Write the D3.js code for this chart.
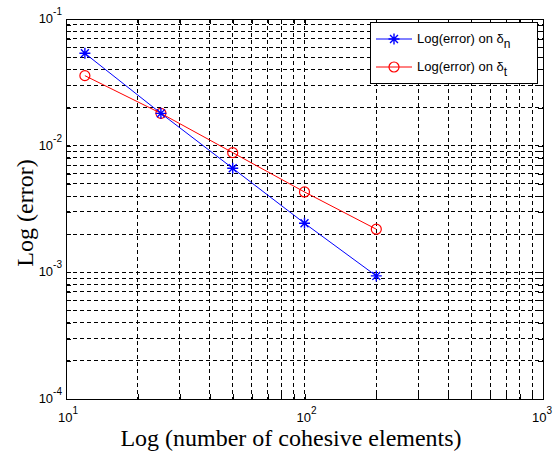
<!DOCTYPE html>
<html>
<head>
<meta charset="utf-8">
<script src="https://cdn.jsdelivr.net/npm/d3@7"></script>
<style>
  body { margin: 0; background: #fff; }
  svg { display: block; }
  .tick-label { font-family: "Liberation Sans", Arial, sans-serif; font-size: 13px; fill: #000; }
  .axis-title { font-family: "Liberation Serif", "Times New Roman", serif; font-size: 24px; fill: #000; }
  .legend-text { font-family: "Liberation Sans", Arial, sans-serif; font-size: 13px; fill: #000; }
</style>
</head>
<body>
<div class="chart"></div>
<script>
// data
const elements = [12, 25, 50, 100, 200];
const errNormal = [0.0536, 0.0180, 0.00663, 0.00244, 0.000937];
const errTangent = [0.0357, 0.0180, 0.00881, 0.00431, 0.00219];
const xDecades = [1, 2, 3];
const yDecades = [-4, -3, -2, -1];
const seriesNames = ["n", "t"];

const W = 554, H = 454;
const margin = {top: 19, right: 11, bottom: 55, left: 66};
const width = W - margin.left - margin.right,
      height = H - margin.top - margin.bottom;

const svg = d3.select(".chart").append("svg")
    .attr("width", W)
    .attr("height", H);

const g = svg.append("g")
    .attr("transform", `translate(${margin.left},${margin.top})`);

// === Scales ===
const xScale = d3.scaleLog()
    .domain([10 ** xDecades[0], 10 ** xDecades[xDecades.length - 1]])
    .range([0, width]);

const yScale = d3.scaleLog()
    .domain([10 ** yDecades[0], 10 ** yDecades[yDecades.length - 1]])
    .range([height, 0]);

const xTicks = xScale.ticks();
const yTicks = yScale.ticks();

// === Grid (dashed, at every log tick) ===
g.append("g")
    .attr("class", "grid")
    .selectAll("line")
    .data(xTicks.filter(d => d > xScale.domain()[0] && d < xScale.domain()[1]))
    .join("line")
    .attr("x1", d => xScale(d)).attr("x2", d => xScale(d))
    .attr("y1", 0).attr("y2", height)
    .attr("stroke", "#000")
    .attr("stroke-width", 1)
    .attr("stroke-dasharray", "4,3")
    .attr("shape-rendering", "crispEdges");

g.append("g")
    .attr("class", "grid")
    .selectAll("line")
    .data(yTicks.filter(d => d > yScale.domain()[0] && d < yScale.domain()[1]))
    .join("line")
    .attr("y1", d => yScale(d)).attr("y2", d => yScale(d))
    .attr("x1", 0).attr("x2", width)
    .attr("stroke", "#000")
    .attr("stroke-width", 1)
    .attr("stroke-dasharray", "4,3")
    .attr("shape-rendering", "crispEdges");

// === Axes (inner ticks on all sides, labels drawn separately) ===
function styleAxis(sel) {
    sel.select(".domain").remove();
    sel.selectAll(".tick text").remove();
    sel.selectAll(".tick line").attr("stroke", "#000").attr("shape-rendering", "crispEdges");
}

g.append("g").attr("transform", `translate(0,${height})`)
    .call(d3.axisBottom(xScale).tickValues(xTicks).tickSizeInner(-5).tickSizeOuter(0))
    .call(styleAxis);
g.append("g")
    .call(d3.axisTop(xScale).tickValues(xTicks).tickSizeInner(-5).tickSizeOuter(0))
    .call(styleAxis);
g.append("g")
    .call(d3.axisLeft(yScale).tickValues(yTicks).tickSizeInner(-5).tickSizeOuter(0))
    .call(styleAxis);
g.append("g").attr("transform", `translate(${width},0)`)
    .call(d3.axisRight(yScale).tickValues(yTicks).tickSizeInner(-5).tickSizeOuter(0))
    .call(styleAxis);

// box
g.append("rect")
    .attr("width", width)
    .attr("height", height)
    .attr("fill", "none")
    .attr("stroke", "#000")
    .attr("stroke-width", 1)
    .attr("shape-rendering", "crispEdges");

// tick labels as 10^n
g.selectAll(".xlab")
    .data(xDecades)
    .join("text")
    .attr("class", "tick-label")
    .attr("text-anchor", "middle")
    .attr("x", (d, i) => xScale(10 ** d) + (i === xDecades.length - 1 ? -1 : 2))
    .attr("y", height + 23)
    .call(t => {
        t.append("tspan").text("10");
        t.append("tspan").attr("dy", -8).attr("font-size", 10).text(d => d);
    });

g.selectAll(".ylab")
    .data(yDecades)
    .join("text")
    .attr("class", "tick-label")
    .attr("text-anchor", "end")
    .attr("x", -4)
    .attr("y", d => yScale(10 ** d) + 4)
    .call(t => {
        t.append("tspan").text("10");
        t.append("tspan").attr("dy", -8).attr("font-size", 10).text(d => d);
    });

// axis titles
svg.append("text")
    .attr("class", "axis-title")
    .attr("text-anchor", "middle")
    .attr("x", 291)
    .attr("y", 446)
    .text("Log (number of cohesive elements)");

svg.append("text")
    .attr("class", "axis-title")
    .attr("text-anchor", "middle")
    .attr("font-size", 29)
    .attr("transform", "translate(33,213) rotate(-90)")
    .text("Log (error)");

// === Lines ===
const line = d3.line()
    .x((d, i) => xScale(elements[i]))
    .y(d => yScale(d));

const colors = ["#0000ff", "#ff0000"];
const series = [errNormal, errTangent];

series.forEach((s, k) => {
    g.append("path")
        .datum(s)
        .attr("d", line)
        .attr("fill", "none")
        .attr("stroke", colors[k])
        .attr("stroke-width", 1);
});

// star marker (MATLAB '*')
function star(sel, size) {
    const r = size / 2, d = r * 0.72;
    sel.attr("d", `M${-r},0H${r}M0,${-r}V${r}M${-d},${-d}L${d},${d}M${-d},${d}L${d},${-d}`);
}

// red circles first, blue stars on top
g.selectAll(".circ")
    .data(errTangent)
    .join("circle")
    .attr("cx", (d, i) => xScale(elements[i]))
    .attr("cy", d => yScale(d))
    .attr("r", 5)
    .attr("fill", "none")
    .attr("stroke", colors[1])
    .attr("stroke-width", 1.2);

g.selectAll(".star")
    .data(errNormal)
    .join("path")
    .attr("transform", (d, i) => `translate(${xScale(elements[i])},${yScale(d)})`)
    .call(star, 11)
    .attr("fill", "none")
    .attr("stroke", colors[0])
    .attr("stroke-width", 1.4);

// === Legend ===
const legendX = 370, legendY = 22;
const legend = svg.append("g").attr("transform", `translate(${legendX},${legendY})`);
legend.append("rect")
    .attr("width", 167)
    .attr("height", 61)
    .attr("fill", "#fff")
    .attr("stroke", "#000")
    .attr("shape-rendering", "crispEdges");

seriesNames.forEach((name, k) => {
    const yy = 17 + k * 28;
    legend.append("line")
        .attr("x1", 6).attr("x2", 42)
        .attr("y1", yy).attr("y2", yy)
        .attr("stroke", colors[k]);
    if (k === 0) {
        legend.append("path")
            .attr("transform", `translate(24,${yy})`)
            .call(star, 11)
            .attr("fill", "none")
            .attr("stroke", colors[k])
            .attr("stroke-width", 1.4);
    } else {
        legend.append("circle")
            .attr("cx", 24).attr("cy", yy).attr("r", 5)
            .attr("fill", "none")
            .attr("stroke", colors[k])
            .attr("stroke-width", 1.2);
    }
    const t = legend.append("text")
        .attr("class", "legend-text")
        .attr("x", 47)
        .attr("y", yy + 4);
    t.append("tspan").text("Log(error) on δ");
    t.append("tspan").attr("dy", 5).attr("font-size", 12).text(name);
});
</script>
</body>
</html>
